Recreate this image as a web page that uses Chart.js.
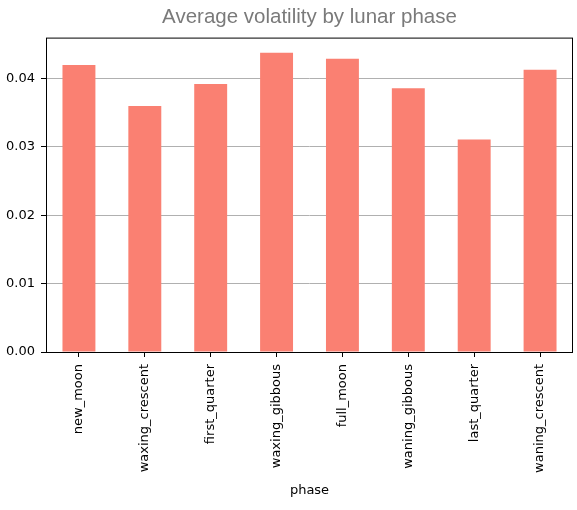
<!DOCTYPE html>
<html>
<head>
<meta charset="utf-8">
<script src="https://cdn.jsdelivr.net/npm/chart.js@4/dist/chart.umd.min.js"></script>
<style>
  html, body { margin: 0; padding: 0; background: #fff; }
  canvas { display: block; }
</style>
</head>
<body>
<canvas id="c" width="577" height="510"></canvas>
<script>
const phases = ['new_moon', 'waxing_crescent', 'first_quarter', 'waxing_gibbous',
                'full_moon', 'waning_gibbous', 'last_quarter', 'waning_crescent'];
const volatility = [0.0420, 0.0360, 0.0392, 0.0438, 0.0429, 0.0386, 0.0311, 0.0413];
const yTicks = [0.00, 0.01, 0.02, 0.03, 0.04];

const FONT = 'DejaVu Sans';

// black frame round the plot area, like matplotlib spines
const framePlugin = {
    id: 'frame',
    afterDraw(chart) {
        const { ctx, chartArea: a } = chart;
        ctx.save();
        ctx.strokeStyle = '#000';
        ctx.lineWidth = 1;
        ctx.strokeRect(a.left + 0.5, a.top + 0.5, a.right - a.left - 1, a.bottom - a.top);
        ctx.restore();
    }
};

new Chart(document.getElementById('c').getContext('2d'), {
    type: 'bar',
    data: {
        labels: phases,
        datasets: [{
            data: volatility,
            backgroundColor: '#FA8072',
            categoryPercentage: 1.0,
            barPercentage: 0.5
        }]
    },
    options: {
        responsive: false,
        animation: false,
        layout: { padding: { top: 0, left: 0, right: 4, bottom: 0 } },
        plugins: {
            legend: { display: false },
            tooltip: { enabled: false },
            title: {
                display: true,
                fullSize: false,   // centre over the plot area, not the canvas
                text: 'Average volatility by lunar phase',
                color: '#7a7a7a',
                font: { family: 'Liberation Sans', size: 20.5, weight: 'normal' },
                padding: { top: 5, bottom: 8 }
            }
        },
        scales: {
            x: {
                grid: { offset: false, color: 'rgba(0,0,0,0)', tickColor: '#000', tickLength: 5, drawTicks: true },
                border: { display: false },
                ticks: {
                    color: '#000',
                    font: { family: FONT, size: 13 },
                    maxRotation: 90,
                    minRotation: 90,
                    padding: 7
                },
                title: {
                    display: true,
                    text: 'phase',
                    color: '#000',
                    font: { family: FONT, size: 13 },
                    padding: { top: 0, bottom: 12 }
                },
                afterFit(scale) { scale.height = 158; }
            },
            y: {
                min: 0,
                max: 0.046,
                grid: { color: '#b0b0b0', tickColor: '#000', tickLength: 5, lineWidth: 1 },
                border: { display: false },
                ticks: {
                    stepSize: 0.01,
                    includeBounds: false,
                    color: '#000',
                    font: { family: FONT, size: 13 },
                    padding: 6,
                    callback: v => v.toFixed(2)
                },
                afterBuildTicks(scale) { scale.ticks = yTicks.map(v => ({ value: v })); },
                afterFit(scale) { scale.width = 46; }
            }
        }
    },
    plugins: [framePlugin]
});
</script>
</body>
</html>
